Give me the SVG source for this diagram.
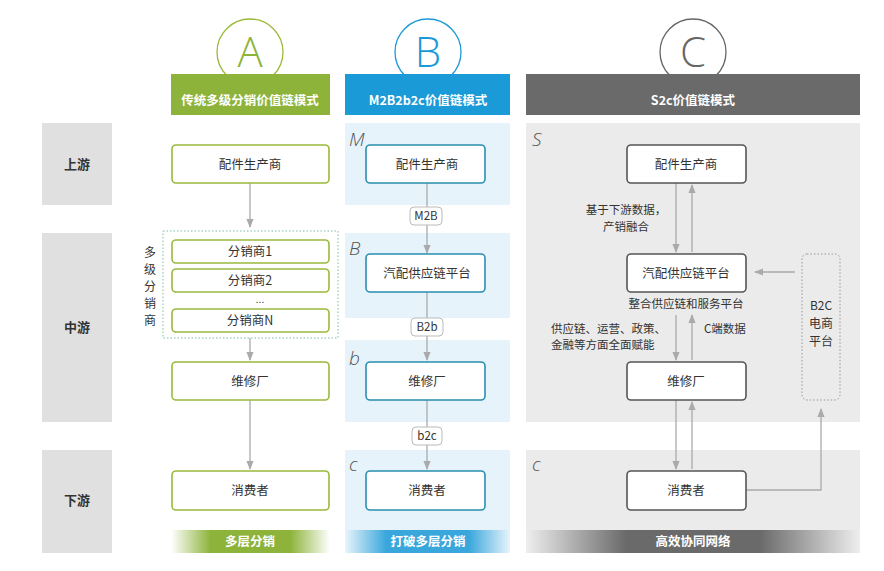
<svg xmlns="http://www.w3.org/2000/svg" width="884" height="571" viewBox="0 0 884 571">
<defs>
<style>
text{font-family:"Noto Sans CJK SC","Noto Sans",sans-serif;}
.side{fill:#e0e0e0}
.sidet{font-size:13px;font-weight:bold;fill:#333;text-anchor:middle}
.bx{fill:#fff;stroke-width:1.6}
.ga{stroke:#9ab93c}.bb{stroke:#2a8fb0}.gc{stroke:#555}
.t{font-size:12.5px;fill:#333;text-anchor:middle}
.v{font-size:12px;fill:#333;text-anchor:middle}
.hd{font-size:12.5px;font-weight:bold;fill:#fff;text-anchor:middle}
.big{font-family:"Open Sans","Liberation Sans",sans-serif;font-weight:300;font-size:42px;text-anchor:middle}
.it{font-family:"Open Sans",sans-serif;font-style:italic;font-weight:300;font-size:19px;fill:#555}
.ln{stroke:#aaa;stroke-width:1.3;fill:none}
.lb{font-size:11.5px;fill:#333}
</style>
<marker id="ar" viewBox="0 0 10 10" refX="9" refY="5" markerWidth="7" markerHeight="7" orient="auto"><path d="M0,1 L10,5 L0,9 z" fill="#aaa"/></marker>
<linearGradient id="gA" x1="0" x2="1"><stop offset="0" stop-color="#fff"/><stop offset="0.25" stop-color="#8db33a"/><stop offset="0.75" stop-color="#8db33a"/><stop offset="1" stop-color="#fff"/></linearGradient>
<linearGradient id="gB" x1="0" x2="1"><stop offset="0" stop-color="#e8f4fb"/><stop offset="0.25" stop-color="#3aa7dc"/><stop offset="0.75" stop-color="#3aa7dc"/><stop offset="1" stop-color="#e8f4fb"/></linearGradient>
<linearGradient id="gC" x1="0" x2="1"><stop offset="0" stop-color="#eee"/><stop offset="0.3" stop-color="#6a6a6a"/><stop offset="0.7" stop-color="#6a6a6a"/><stop offset="1" stop-color="#eee"/></linearGradient>
</defs>
<rect width="884" height="571" fill="#fff"/>
<g id="side">
<rect class="side" x="42" y="123" width="70" height="82"/><text class="sidet" x="77" y="169">上游</text>
<rect class="side" x="42" y="233" width="70" height="189"/><text class="sidet" x="77" y="332">中游</text>
<rect class="side" x="42" y="450" width="70" height="103"/><text class="sidet" x="77" y="505">下游</text>
</g>
<g id="panels">
<rect x="345" y="123" width="165" height="82" fill="#e6f3fb"/>
<rect x="345" y="233" width="165" height="85" fill="#e6f3fb"/>
<rect x="345" y="340" width="165" height="82" fill="#e6f3fb"/>
<rect x="345" y="450" width="165" height="103" fill="#e6f3fb"/>
<rect x="526" y="123" width="334" height="299" fill="#ebebeb"/>
<rect x="526" y="450" width="334" height="103" fill="#ebebeb"/>
<rect x="171" y="530" width="159" height="23" fill="url(#gA)"/><text class="hd" x="250" y="546">多层分销</text>
<rect x="345" y="530" width="165" height="23" fill="url(#gB)"/><text class="hd" x="428" y="546">打破多层分销</text>
<rect x="526" y="530" width="334" height="23" fill="url(#gC)"/><text class="hd" x="693" y="546">高效协同网络</text>
</g>
<g id="headers">
<circle cx="250" cy="52" r="33" fill="#fff" stroke="#9ab93c" stroke-width="1.3"/><text class="big" x="250" y="67" fill="#8db33a">A</text>
<rect x="171" y="74" width="159" height="41" fill="#8db33a"/><text class="hd" x="250" y="105">传统多级分销价值链模式</text>
<circle cx="428" cy="52" r="33" fill="#fff" stroke="#1a9ad6" stroke-width="1.3"/><text class="big" x="428" y="67" fill="#1a9ad6">B</text>
<rect x="345" y="74" width="165" height="41" fill="#1a9ad6"/><text class="hd" x="428" y="105">M2B2b2c价值链模式</text>
<circle cx="693" cy="52" r="33" fill="#fff" stroke="#666" stroke-width="1.3"/><text class="big" x="693" y="67" fill="#666">C</text>
<rect x="526" y="74" width="334" height="41" fill="#6a6a6a"/><text class="hd" x="693" y="105">S2c价值链模式</text>
</g>
<g id="letters">
<text class="it" x="349" y="146">M</text><text class="it" x="349" y="255">B</text><text class="it" x="349" y="365">b</text><text class="it" x="349" y="471">c</text>
<text class="it" x="532" y="146">S</text><text class="it" x="532" y="471">c</text>
</g>
<g id="connectors">
<line class="ln" x1="250" y1="183" x2="250" y2="227" marker-end="url(#ar)"/>
<line class="ln" x1="250" y1="338" x2="250" y2="360" marker-end="url(#ar)"/>
<line class="ln" x1="250" y1="400" x2="250" y2="469" marker-end="url(#ar)"/>
<line class="ln" x1="427" y1="183" x2="427" y2="253" marker-end="url(#ar)"/>
<line class="ln" x1="427" y1="292" x2="427" y2="360" marker-end="url(#ar)"/>
<line class="ln" x1="427" y1="400" x2="427" y2="469" marker-end="url(#ar)"/>
<line class="ln" x1="676" y1="183" x2="676" y2="252" marker-end="url(#ar)"/>
<line class="ln" x1="692" y1="252" x2="692" y2="185" marker-end="url(#ar)"/>
<line class="ln" x1="676" y1="315" x2="676" y2="360" marker-end="url(#ar)"/>
<line class="ln" x1="692" y1="360" x2="692" y2="315" marker-end="url(#ar)"/>
<line class="ln" x1="676" y1="400" x2="676" y2="469" marker-end="url(#ar)"/>
<line class="ln" x1="692" y1="469" x2="692" y2="402" marker-end="url(#ar)"/>
<line class="ln" x1="795" y1="272" x2="755" y2="272" marker-end="url(#ar)"/>
<polyline class="ln" points="746,490 821,490 821,409" marker-end="url(#ar)"/>
<g>
<rect x="410" y="207" width="32" height="18" rx="4" fill="#fff" stroke="#bbb"/><text class="lb" x="426" y="220" text-anchor="middle">M2B</text>
<rect x="411" y="318" width="32" height="18" rx="4" fill="#fff" stroke="#bbb"/><text class="lb" x="427" y="331" text-anchor="middle">B2b</text>
<rect x="412" y="427" width="30" height="18" rx="4" fill="#fff" stroke="#bbb"/><text class="lb" x="427" y="440" text-anchor="middle">b2c</text>
</g>
<text class="lb" x="626" y="214" text-anchor="middle">基于下游数据，</text>
<text class="lb" x="626" y="231" text-anchor="middle">产销融合</text>
<text class="lb" x="686" y="308" text-anchor="middle">整合供应链和服务平台</text>
<text class="lb" x="551" y="333">供应链、运营、政策、</text>
<text class="lb" x="551" y="349">金融等方面全面赋能</text>
<text class="lb" x="704" y="333">C端数据</text>
</g>
<g id="colA">
<rect class="bx ga" x="172" y="145" width="157" height="38" rx="4"/><text class="t" x="250" y="169">配件生产商</text>
<rect x="163" y="231" width="175" height="107" fill="none" stroke="#7bbf9f" stroke-dasharray="1.5 2"/>
<rect class="bx ga" x="172" y="240" width="157" height="23" rx="4"/><text class="t" x="250" y="256">分销商1</text>
<rect class="bx ga" x="172" y="269" width="157" height="23" rx="4"/><text class="t" x="250" y="285">分销商2</text>
<text x="260" y="303" font-size="10" fill="#333" text-anchor="middle">...</text>
<rect class="bx ga" x="172" y="309" width="157" height="23" rx="4"/><text class="t" x="250" y="325">分销商N</text>
<text class="v" x="150" y="257">多</text><text class="v" x="150" y="274">级</text><text class="v" x="150" y="291">分</text><text class="v" x="150" y="308">销</text><text class="v" x="150" y="325">商</text>
<rect class="bx ga" x="172" y="362" width="157" height="38" rx="4"/><text class="t" x="250" y="386">维修厂</text>
<rect class="bx ga" x="172" y="471" width="157" height="39" rx="4"/><text class="t" x="250" y="495">消费者</text>
</g>
<g id="colB">
<rect class="bx bb" x="366" y="145" width="119" height="38" rx="4"/><text class="t" x="427" y="169">配件生产商</text>
<rect class="bx bb" x="366" y="254" width="119" height="38" rx="4"/><text class="t" x="427" y="278">汽配供应链平台</text>
<rect class="bx bb" x="366" y="362" width="119" height="38" rx="4"/><text class="t" x="427" y="386">维修厂</text>
<rect class="bx bb" x="366" y="471" width="119" height="39" rx="4"/><text class="t" x="427" y="495">消费者</text>
</g>
<g id="colC">
<rect class="bx gc" x="627" y="145" width="119" height="38" rx="4"/><text class="t" x="686" y="169">配件生产商</text>
<rect class="bx gc" x="627" y="254" width="119" height="38" rx="4"/><text class="t" x="686" y="278">汽配供应链平台</text>
<rect class="bx gc" x="627" y="362" width="119" height="38" rx="4"/><text class="t" x="686" y="386">维修厂</text>
<rect class="bx gc" x="627" y="471" width="119" height="39" rx="4"/><text class="t" x="686" y="495">消费者</text>
<rect x="802" y="254" width="38" height="146" rx="5" fill="none" stroke="#999" stroke-dasharray="1.5 2"/>
<text class="v" x="821" y="310">B2C</text><text class="v" x="821" y="328">电商</text><text class="v" x="821" y="346">平台</text>
</g>
</svg>
